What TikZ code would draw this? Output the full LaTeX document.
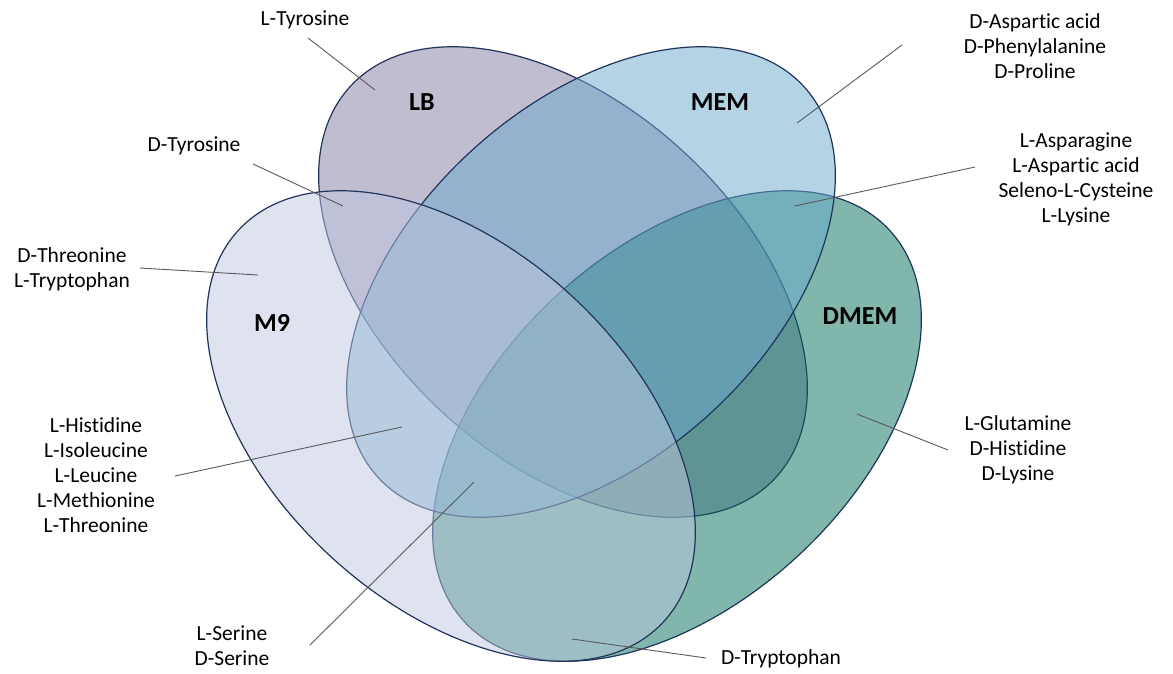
\documentclass[tikz,border=0pt]{standalone}
\usepackage{fontspec}
\setmainfont{Carlito}[Ligatures={NoCommon,NoContextual}, Contextuals=NoAlternate]
\definecolor{cLB}{RGB}{129,123,161}
\definecolor{cDMEM}{RGB}{1,109,89}
\definecolor{cMEM}{RGB}{105,169,205}
\definecolor{cMnine}{RGB}{189,199,223}
\definecolor{edge}{RGB}{32,52,92}
\definecolor{leadc}{RGB}{90,90,90}
\begin{document}
\begin{tikzpicture}[x=1pt,y=-1pt,
  setshape/.style={draw=edge, line width=1.2pt, fill opacity=0.5, draw opacity=1},
  lbl/.style={font=\fontsize{21.5}{25}\selectfont, align=center, inner sep=0pt, text=black},
  setname/.style={font=\fontsize{26}{30}\selectfont\bfseries, inner sep=0pt},
  leader/.style={draw=leadc, line width=0.9pt}]
\useasboundingbox (0,0) rectangle (1173,673);
% sets (bottom to top: LB, DMEM, MEM, M9)
\path[setshape, fill=cLB, rotate around={-42.6:(563,282)}] (563,282) ellipse [x radius=289pt, y radius=177.5pt];
\path[setshape, fill=cDMEM, rotate around={42.6:(677,426)}] (677,426) ellipse [x radius=289pt, y radius=177.5pt];
\path[setshape, fill=cMEM, rotate around={42.6:(591,282)}] (591,282) ellipse [x radius=289pt, y radius=177.5pt];
\path[setshape, fill=cMnine, rotate around={-42.6:(451,426)}] (451,426) ellipse [x radius=289pt, y radius=177.5pt];
% set names
\node[setname] (nLB) at (422,102) {LB};
\node[setname] (nMEM) at (720,102) {MEM};
\node[setname] (nM9) at (272,323) {M9};
\node[setname] (nDMEM) at (860,316) {DMEM};
% element labels
\node[lbl] (tLTyr) at (305,20) {L-Tyrosine};
\node[lbl] (tDAsp) at (1035,46) {D-Aspartic acid\\D-Phenylalanine\\D-Proline};
\node[lbl] (tDTyr) at (194,146) {D-Tyrosine};
\node[lbl] (tLAsn) at (1076,179) {L-Asparagine\\L-Aspartic acid\\Seleno-L-Cysteine\\L-Lysine};
\node[lbl] (tDThr) at (72,269) {D-Threonine\\L-Tryptophan};
\node[lbl] (tLHis) at (96,475) {L-Histidine\\L-Isoleucine\\L-Leucine\\L-Methionine\\L-Threonine};
\node[lbl] (tLGln) at (1018,450) {L-Glutamine\\D-Histidine\\D-Lysine};
\node[lbl] (tLSer) at (232,646) {L-Serine\\D-Serine};
\node[lbl] (tDTrp) at (781,659) {D-Tryptophan};
% leader end points
\coordinate (a1) at (308,38);  \coordinate (b1) at (375,90);
\coordinate (a2) at (253,164); \coordinate (b2) at (343,206);
\coordinate (a3) at (140,268); \coordinate (b3) at (258,275);
\coordinate (a4) at (175,476); \coordinate (b4) at (402,427);
\coordinate (a5) at (310,645); \coordinate (b5) at (474,482);
\coordinate (a6) at (706,658); \coordinate (b6) at (572,639);
\coordinate (a7) at (948,450); \coordinate (b7) at (857,414);
\coordinate (a8) at (975,167); \coordinate (b8) at (795,206);
\coordinate (a9) at (902,45);  \coordinate (b9) at (797,123);
\foreach \i in {1,...,9} {\draw[leader] (a\i) -- (b\i);}
\end{tikzpicture}
\end{document}
